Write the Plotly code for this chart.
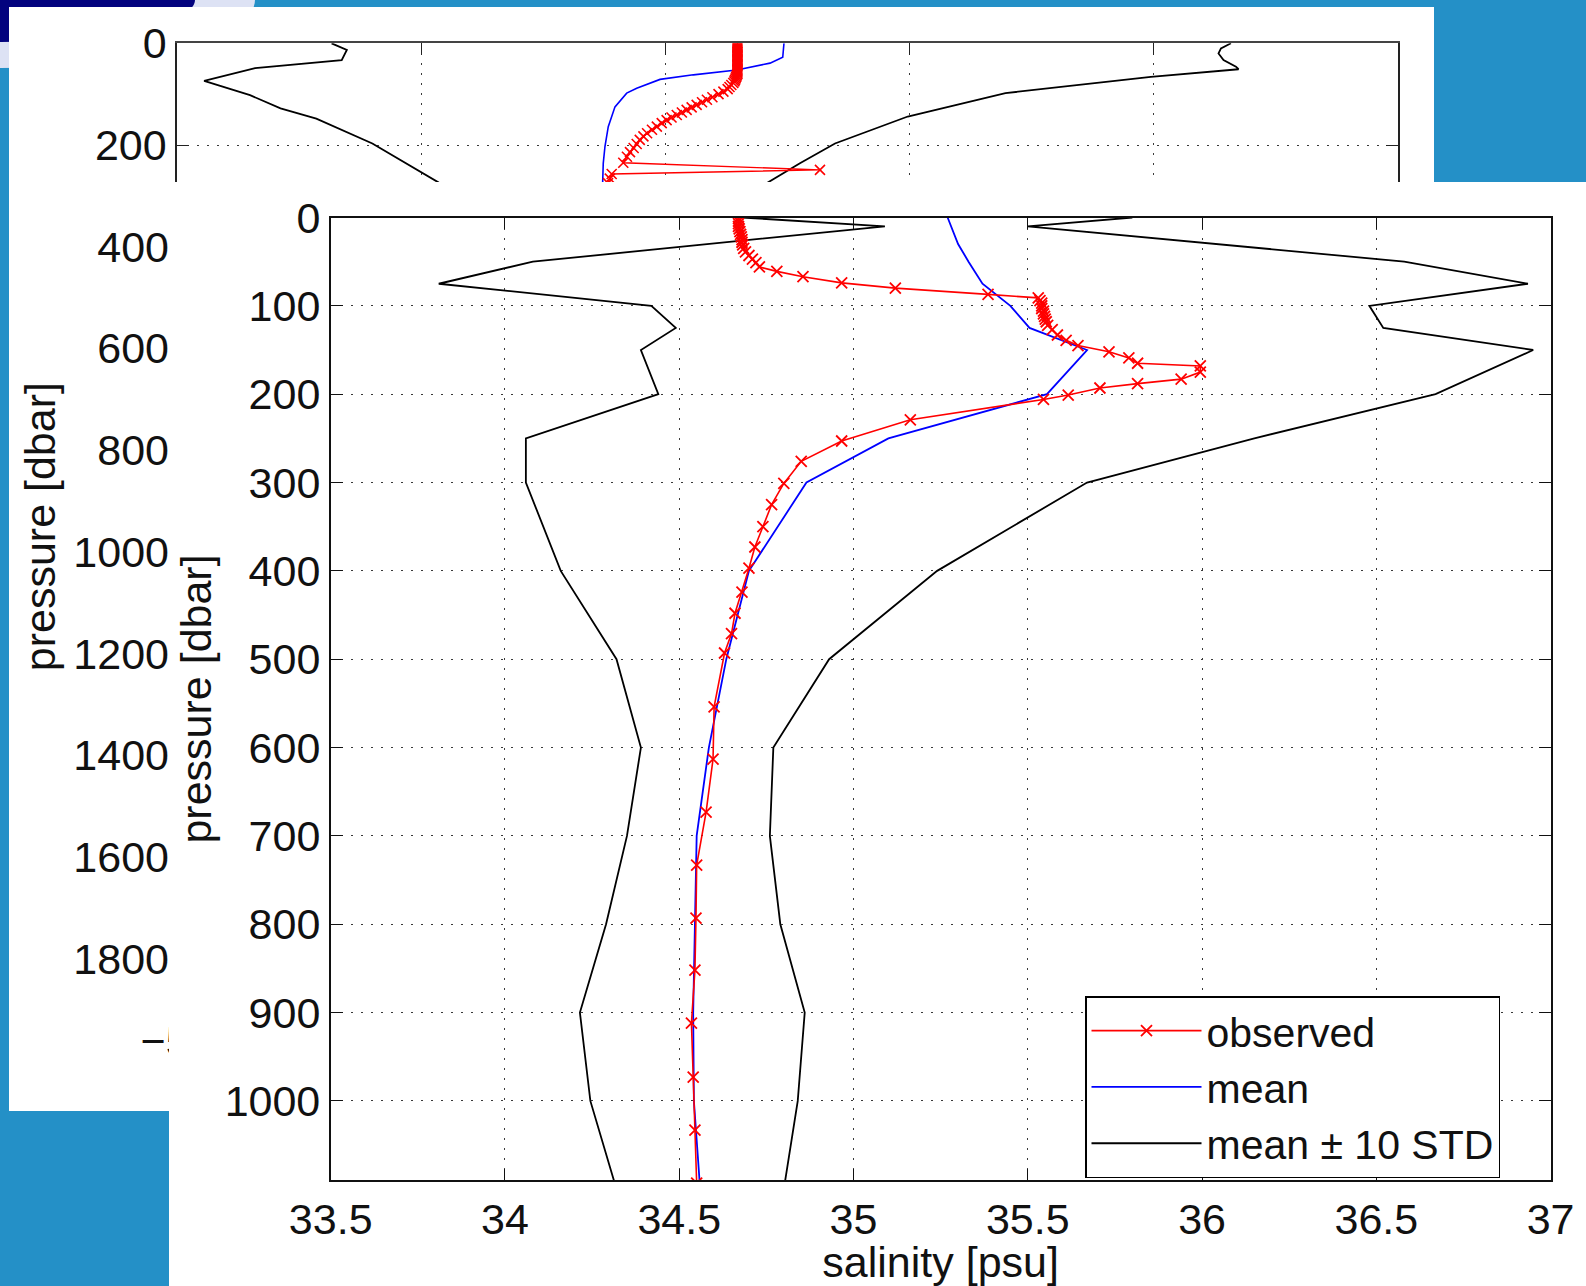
import plotly.graph_objects as go

W, H = 1586, 1286
FONT = "Liberation Sans, Arial, Helvetica, sans-serif"
FS = 43

# ---------------- front chart data (salinity profile) ----------------
X_TICKS = [33.5, 34, 34.5, 35, 35.5, 36, 36.5, 37]
X_TICKTEXT = ["33.5", "34", "34.5", "35", "35.5", "36", "36.5", "37"]
Y_TICKS = [0, 100, 200, 300, 400, 500, 600, 700, 800, 900, 1000]

MEAN_P = [0, 10, 20, 30, 50, 75, 100, 125, 150, 200, 250, 300, 400, 500, 600, 700, 800, 900, 1000, 1100]
MEAN_S = [35.27, 35.28, 35.29, 35.30, 35.33, 35.37, 35.45, 35.505, 35.67, 35.555, 35.10, 34.865,
          34.70, 34.635, 34.585, 34.55, 34.545, 34.54, 34.542, 34.56]

STD_P = [0, 10, 50, 75, 100, 125, 150, 200, 250, 300, 400, 500, 600, 700, 800, 900, 1000, 1100]
LO_S = [34.68, 35.09, 34.08, 33.81, 34.42, 34.49, 34.39, 34.44, 34.06, 34.06, 34.16, 34.32,
        34.39, 34.35, 34.29, 34.215, 34.245, 34.32]
HI_S = [35.80, 35.50, 36.58, 36.935, 36.48, 36.52, 36.95, 36.67, 36.15, 35.67, 35.24, 34.93,
        34.77, 34.76, 34.79, 34.86, 34.84, 34.80]

OBS_P = [1, 4, 7, 10, 13, 16, 19, 22, 25, 28, 31, 35, 39, 43, 47, 51, 56, 61, 67, 74, 80, 87,
         91, 94, 97, 100, 103, 106, 109, 112, 115, 118, 122, 127, 133, 139, 145, 152, 159, 165,
         168, 175, 183, 188, 193, 201, 206, 229, 253, 276, 301, 325, 350, 373, 397, 424, 448,
         471, 493, 554, 613, 673, 733, 793, 852, 912, 973, 1033, 1093]
OBS_S = [34.67, 34.67, 34.67, 34.67, 34.672, 34.674, 34.676, 34.678, 34.68, 34.68, 34.682,
         34.685, 34.69, 34.70, 34.71, 34.72, 34.73, 34.78, 34.855, 34.966, 35.12, 35.386,
         35.53, 35.535, 35.54, 35.54, 35.54, 35.545, 35.545, 35.548, 35.55, 35.553, 35.557,
         35.57, 35.585, 35.61, 35.644, 35.733, 35.79, 35.815, 35.995, 35.995, 35.94, 35.815,
         35.707, 35.616, 35.545, 35.163, 34.966, 34.85, 34.80, 34.765, 34.74, 34.717, 34.70,
         34.68, 34.66, 34.65, 34.63, 34.60, 34.597, 34.577, 34.55, 34.548, 34.545, 34.535,
         34.54, 34.545, 34.55]

# ---------------- back chart data (partly hidden profile) ----------------
BACK_X_TICKS = [-50, -30, -10, 10, 30, 50]
BACK_Y_TICKS_TOP = [0, 200]
BACK_Y_TICKS_LOW = [400, 600, 800, 1000, 1200, 1400, 1600, 1800]
BACK_X_LABEL_TICK = [-50]

BACK_LO_P = [0, 13, 33, 49, 74, 102, 128, 148, 197, 274]
BACK_LO_X = [-37.34, -36.09, -36.51, -43.60, -47.78, -44.02, -41.52, -38.59, -34.0, -28.56]
BACK_HI_P = [0, 10, 20, 33, 46, 51, 66, 98, 144, 197, 236, 275]
BACK_HI_X = [36.32, 35.5, 35.3, 35.71, 36.73, 36.94, 29.76, 17.85, 9.85, 3.89, 1.02, -1.7]
BACK_MEAN_P = [0, 27.5, 39, 52.5, 62, 71, 88.5, 98, 125, 164, 203, 236, 275]
BACK_MEAN_X = [-0.29, -0.39, -1.43, -4.16, -7.71, -10.44, -12.35, -13.17, -14.13, -14.68,
               -14.95, -15.09, -15.14]
BACK_OBS_P = [0, 2.5, 5, 7.5, 10, 12.5, 15, 17.5, 20, 22.5, 25, 27.5, 30, 32.5, 35, 37.5, 40,
              42.5, 45, 47.5, 50, 52.5, 55, 57.5, 60, 63, 66, 69, 72, 75, 78, 82, 86, 90, 95,
              100, 106, 111, 116, 121, 126, 131, 136, 141, 146, 151, 157, 164, 170, 177, 183,
              190, 198, 206, 214, 223, 235, 249, 257, 266, 275]
BACK_OBS_X = [-4.1, -4.1, -4.1, -4.1, -4.1, -4.1, -4.1, -4.1, -4.1, -4.1, -4.1, -4.1, -4.1,
              -4.1, -4.1, -4.1, -4.1, -4.1, -4.1, -4.1, -4.1, -4.1, -4.1, -4.1, -4.1, -4.15,
              -4.2, -4.25, -4.3, -4.35, -4.44, -4.6, -4.75, -4.9, -5.25, -5.65, -6.15, -6.6,
              -7.0, -7.44, -7.85, -8.26, -8.65, -9.07, -9.5, -9.9, -10.3, -10.7, -11.1, -11.5,
              -11.8, -12.1, -12.35, -12.6, -12.9, -13.15, -13.45, 2.66, -14.4, -14.55, -14.7]

# ---------------- geometry (pixels) ----------------
BLUE_BG = "#2490C7"
NAVY = "#03037E"


def px_x(x):
    return x / W


def px_y(y):
    return 1 - y / H


BACK_TOP = 43.3
BACK_CUT = 182.0
BACK_AX_L, BACK_AX_R = 177.0, 1398.0
BACK_BOTTOM = 1010.0
PX_PER_DBAR_BACK = 0.5085
PX_PER_UNIT_BACK = (BACK_AX_R - BACK_AX_L) / 100.0
LAB_X_L, LAB_X_R = 9.0, 250.0
FR_L, FR_R, FR_T, FR_B = 330.7, 1550.6, 217.5, 1180.4
PANEL_L = 169.0

back_p_cut = (BACK_CUT - BACK_TOP) / PX_PER_DBAR_BACK
back_p_bottom = (BACK_BOTTOM - BACK_TOP) / PX_PER_DBAR_BACK
lab_x0 = -50 - (BACK_AX_L - LAB_X_L) / PX_PER_UNIT_BACK
lab_x1 = -50 + (LAB_X_R - BACK_AX_L) / PX_PER_UNIT_BACK

GRID = dict(showgrid=True, gridcolor="#3a3a3a", gridwidth=1.2, griddash="2px,8px")
TICKFONT = dict(family=FONT, size=FS, color="#111")
NOAM = dict(automargin=False)

fig = go.Figure()

# subplot xy : back-chart lower tick labels (no marks)
fig.add_trace(go.Scatter(x=[], y=[], xaxis="x", yaxis="y", showlegend=False, hoverinfo="skip"))

# subplot x2y2 : visible top part of the back chart
fig.add_trace(go.Scatter(x=BACK_LO_X, y=BACK_LO_P, xaxis="x2", yaxis="y2", mode="lines",
                         line=dict(color="black", width=1.8), showlegend=False))
fig.add_trace(go.Scatter(x=BACK_HI_X, y=BACK_HI_P, xaxis="x2", yaxis="y2", mode="lines",
                         line=dict(color="black", width=1.8), showlegend=False))
fig.add_trace(go.Scatter(x=BACK_MEAN_X, y=BACK_MEAN_P, xaxis="x2", yaxis="y2", mode="lines",
                         line=dict(color="#0000FF", width=1.6), showlegend=False))
fig.add_trace(go.Scatter(x=BACK_OBS_X, y=BACK_OBS_P, xaxis="x2", yaxis="y2", mode="lines+markers",
                         line=dict(color="#FF0000", width=1.4),
                         marker=dict(symbol="x-thin", size=10, color="#FF0000",
                                     line=dict(color="#FF0000", width=1.6)),
                         showlegend=False))

# subplot x3y3 : front panel background
fig.add_trace(go.Scatter(x=[], y=[], xaxis="x3", yaxis="y3", showlegend=False, hoverinfo="skip"))

# subplot x4y4 : front chart
fig.add_trace(go.Scatter(x=LO_S, y=STD_P, xaxis="x4", yaxis="y4", mode="lines",
                         line=dict(color="black", width=1.8), name="mean \u00b1 10 STD",
                         legendgroup="std", legendrank=3))
fig.add_trace(go.Scatter(x=HI_S, y=STD_P, xaxis="x4", yaxis="y4", mode="lines",
                         line=dict(color="black", width=1.8), name="mean \u00b1 10 STD",
                         legendgroup="std", showlegend=False))
fig.add_trace(go.Scatter(x=MEAN_S, y=MEAN_P, xaxis="x4", yaxis="y4", mode="lines",
                         line=dict(color="#0000FF", width=1.8), name="mean", legendrank=2))
fig.add_trace(go.Scatter(x=OBS_S, y=OBS_P, xaxis="x4", yaxis="y4", mode="lines+markers",
                         line=dict(color="#FF0000", width=1.6),
                         marker=dict(symbol="x-thin", size=11, color="#FF0000",
                                     line=dict(color="#FF0000", width=1.8)),
                         name="observed", legendrank=1))

shapes = [
    dict(type="circle", xref="paper", yref="paper", layer="below",
         x0=px_x(-255), x1=px_x(255), y0=px_y(68), y1=px_y(-68),
         fillcolor="#DDE2F4", line=dict(width=0)),
    dict(type="circle", xref="paper", yref="paper", layer="below",
         x0=px_x(-195), x1=px_x(195), y0=px_y(42), y1=px_y(-42),
         fillcolor=NAVY, line=dict(width=0)),
    dict(type="rect", xref="paper", yref="paper", layer="below",
         x0=px_x(9), x1=px_x(1434), y0=px_y(1111), y1=px_y(7),
         fillcolor="white", line=dict(width=0)),
]

fig.update_layout(
    template="none",
    width=W, height=H, autosize=False,
    margin=dict(l=0, r=0, t=0, b=0, pad=0, autoexpand=False),
    paper_bgcolor=BLUE_BG, plot_bgcolor="white",
    font=dict(family=FONT, size=FS, color="#111"),
    shapes=shapes,
    showlegend=True,
    legend=dict(x=px_x(1085), y=px_y(1087), xanchor="left", yanchor="middle",
                bgcolor="white", bordercolor="black", borderwidth=1.5,
                font=dict(family=FONT, size=41, color="#111"),
                itemwidth=110, tracegroupgap=0),
    # back chart: lower labels
    xaxis=dict(domain=[px_x(LAB_X_L), px_x(LAB_X_R)], anchor="y", range=[lab_x0, lab_x1],
               tickvals=BACK_X_LABEL_TICK, ticks="", showline=False, showgrid=False,
               zeroline=False, tickfont=TICKFONT, ticklabelstandoff=2, **NOAM),
    yaxis=dict(domain=[px_y(BACK_BOTTOM), px_y(BACK_TOP)], anchor="free",
               position=px_x(BACK_AX_L), range=[back_p_bottom, 0],
               tickvals=BACK_Y_TICKS_LOW, ticks="", showline=False, showgrid=False,
               zeroline=False, tickfont=TICKFONT, ticklabelstandoff=8,
               title=dict(text="pressure [dbar]", font=dict(family=FONT, size=FS, color="#111"),
                          standoff=3), **NOAM),
    # back chart: visible top
    xaxis2=dict(domain=[px_x(BACK_AX_L), px_x(BACK_AX_R)], anchor="y2", side="top",
                range=[-50, 50], tickvals=BACK_X_TICKS, ticks="inside", ticklen=12,
                tickcolor="#222", tickwidth=1.3, showticklabels=False,
                showline=True, linecolor="#444", linewidth=2.2, zeroline=False, **GRID, **NOAM),
    yaxis2=dict(domain=[px_y(BACK_CUT), px_y(BACK_TOP)], anchor="x2",
                range=[back_p_cut, 0], tickvals=BACK_Y_TICKS_TOP, ticks="inside", ticklen=12,
                tickcolor="#222", tickwidth=1.3, mirror="ticks", showline=True,
                linecolor="#222", linewidth=1.5, zeroline=False, tickfont=TICKFONT,
                ticklabelstandoff=0, **GRID, **NOAM),
    # front panel
    xaxis3=dict(domain=[px_x(PANEL_L), 1.0], anchor="y3", range=[0, 1], visible=True,
                showgrid=False, zeroline=False, showline=False, showticklabels=False, ticks="",
                **NOAM),
    yaxis3=dict(domain=[0.0, px_y(BACK_CUT)], anchor="x3", range=[0, 1], visible=True,
                showgrid=False, zeroline=False, showline=False, showticklabels=False, ticks="",
                **NOAM),
    # front chart
    xaxis4=dict(domain=[px_x(FR_L), px_x(FR_R)], anchor="y4", range=[33.5, 37],
                tickvals=X_TICKS, ticktext=X_TICKTEXT, ticks="inside", ticklen=12,
                tickcolor="#111", tickwidth=1.4, mirror="ticks", showline=True,
                linecolor="#111", linewidth=1.6, zeroline=False, tickfont=TICKFONT,
                ticklabelstandoff=0,
                title=dict(text="salinity [psu]", font=dict(family=FONT, size=FS, color="#111"),
                           standoff=14), **GRID, **NOAM),
    yaxis4=dict(domain=[px_y(FR_B), px_y(FR_T)], anchor="x4", range=[1090, 0],
                tickvals=Y_TICKS, ticks="inside", ticklen=12, tickcolor="#111", tickwidth=1.4,
                mirror="ticks", showline=True, linecolor="#111", linewidth=1.6,
                zeroline=False, tickfont=TICKFONT, ticklabelstandoff=0,
                title=dict(text="pressure [dbar]", font=dict(family=FONT, size=FS, color="#111"),
                           standoff=0), **GRID, **NOAM),
)

fig.write_html("out.html",
               config={"displayModeBar": False},
               post_script="document.body.style.margin='0px';document.body.style.overflow='hidden';")
